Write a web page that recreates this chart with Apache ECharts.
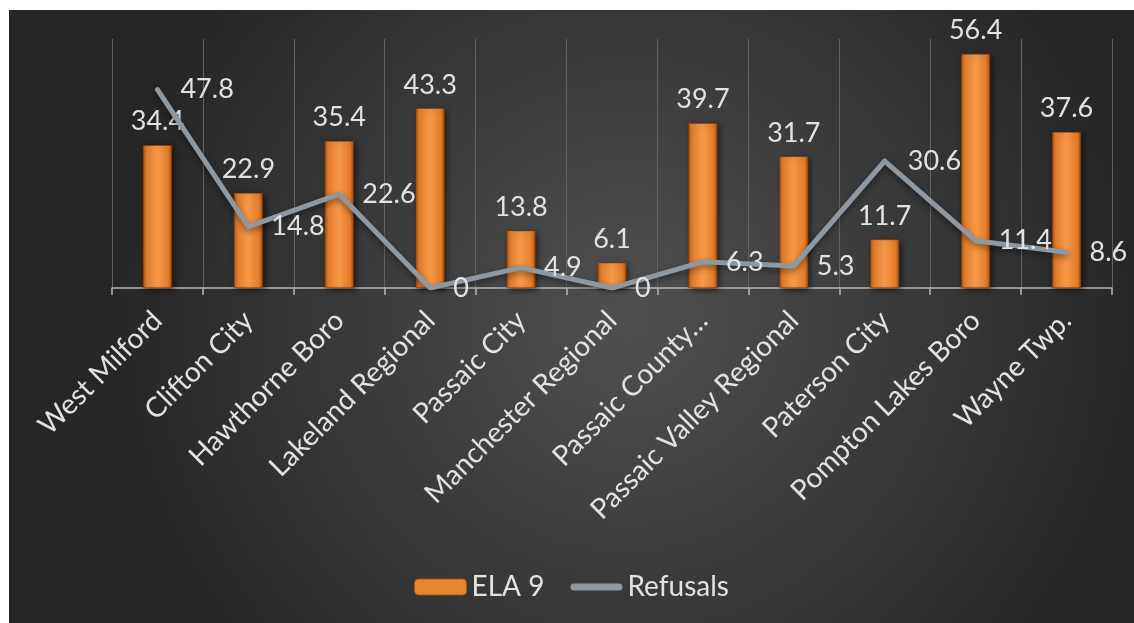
<!DOCTYPE html>
<html>
<head>
<meta charset="utf-8">
<script src="https://cdn.jsdelivr.net/npm/echarts@6/dist/echarts.min.js"></script>
<style>
  html, body { margin: 0; padding: 0; background: #fff; }
  #chart { position: absolute; left: 9px; top: 10px; width: 1125px; height: 613px; }
</style>
</head>
<body>
<div id="chart"></div>
<script>
// data
const districts = ['West Milford', 'Clifton City', 'Hawthorne Boro', 'Lakeland Regional', 'Passaic City',
  'Manchester Regional', 'Passaic County…', 'Passaic Valley Regional', 'Paterson City',
  'Pompton Lakes Boro', 'Wayne Twp.'];
const ela9 = [34.4, 22.9, 35.4, 43.3, 13.8, 6.1, 39.7, 31.7, 11.7, 56.4, 37.6];
const refusals = [47.8, 14.8, 22.6, 0, 4.9, 0, 6.3, 5.3, 30.6, 11.4, 8.6];

const textColor = '#e2e2e2';
const font = 'Lato, "Open Sans", sans-serif';
const lineColor = '#8e98a3';

const barFill = new echarts.graphic.LinearGradient(0, 0, 1, 0, [
  { offset: 0, color: '#a9520f' },
  { offset: 0.12, color: '#e67f2c' },
  { offset: 0.5, color: '#f4994a' },
  { offset: 0.88, color: '#e57b27' },
  { offset: 1, color: '#9a470c' }
]);

const chart = echarts.init(document.getElementById('chart'));
chart.setOption({
  backgroundColor: new echarts.graphic.RadialGradient(0.55, 0.5, 0.85, [
    { offset: 0, color: '#505050' },
    { offset: 1, color: '#262626' }
  ]),
  textStyle: { fontFamily: font },
  animation: false,
  grid: { left: 103, right: 22, top: 29, bottom: 335 },
  legend: {
    top: 558,
    left: 'center',
    itemWidth: 52,
    itemHeight: 16,
    itemGap: 26,
    textStyle: { color: textColor, fontSize: 28, fontFamily: font },
    data: [
      { name: 'ELA 9', itemStyle: { color: '#e8852f', borderColor: '#a9520f', borderWidth: 1 } },
      { name: 'Refusals', icon: 'path://M4,0 L54,0 A4,4 0 0 1 54,8 L4,8 A4,4 0 0 1 4,0 Z',
        itemStyle: { color: lineColor } }
    ]
  },
  xAxis: {
    type: 'category',
    data: districts,
    axisLine: { lineStyle: { color: '#b8b8b8', width: 1.5 } },
    axisTick: { show: true, length: 7, lineStyle: { color: '#b8b8b8', width: 1.5 } },
    splitLine: { show: true, lineStyle: { color: '#626262', width: 1 } },
    axisLabel: {
      rotate: 45,
      interval: 0,
      color: textColor,
      fontSize: 28,
      fontFamily: font,
      margin: 28
    }
  },
  yAxis: {
    type: 'value',
    min: 0,
    max: 60,
    show: false,
    splitLine: { show: false }
  },
  series: [
    {
      name: 'ELA 9',
      type: 'bar',
      data: ela9,
      barWidth: 29,
      itemStyle: {
        color: barFill,
        borderColor: '#7a3a08',
        borderWidth: 0.5,
        shadowColor: 'rgba(0,0,0,0.55)',
        shadowBlur: 6,
        shadowOffsetX: 2,
        shadowOffsetY: 2
      },
      label: {
        show: true,
        position: 'top',
        distance: 10,
        color: textColor,
        fontSize: 27,
        fontFamily: font
      }
    },
    {
      name: 'Refusals',
      type: 'line',
      data: refusals,
      symbol: 'circle',
      symbolSize: 2,
      itemStyle: { color: lineColor },
      lineStyle: {
        color: lineColor,
        width: 5,
        cap: 'round',
        join: 'round',
        shadowColor: 'rgba(0,0,0,0.45)',
        shadowBlur: 6,
        shadowOffsetY: 3
      },
      label: {
        show: true,
        position: 'right',
        distance: 22,
        color: textColor,
        fontSize: 27,
        fontFamily: font
      },
      z: 3
    }
  ]
});
</script>
</body>
</html>
